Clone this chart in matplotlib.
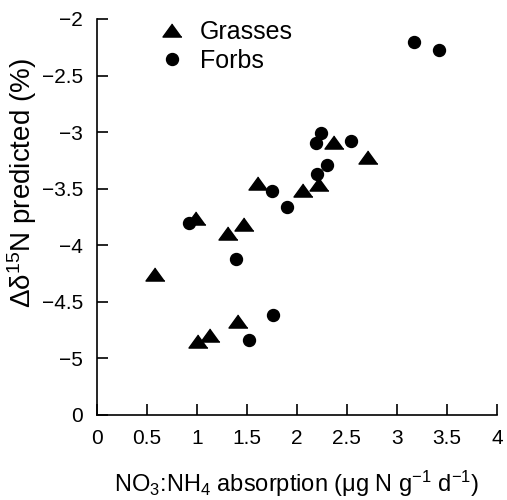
import matplotlib
matplotlib.use('Agg')
import matplotlib.pyplot as plt

plt.rcParams['font.family'] = ['Liberation Sans', 'DejaVu Sans']
plt.rcParams['mathtext.fontset'] = 'custom'
plt.rcParams['mathtext.rm'] = 'Liberation Sans'
plt.rcParams['mathtext.it'] = 'Liberation Sans:italic'

# data
grass_x = [0.58, 0.99, 1.31, 1.47, 1.61, 2.06, 2.22, 2.37, 2.71, 1.01, 1.13, 1.41]
grass_y = [-4.25, -3.76, -3.895, -3.81, -3.45, -3.51, -3.46, -3.085, -3.22, -4.85, -4.79, -4.67]
forb_x = [0.92, 1.39, 1.75, 1.90, 2.19, 2.24, 2.30, 2.20, 2.54, 3.17, 3.42, 1.76, 1.52]
forb_y = [-3.80, -4.12, -3.52, -3.665, -3.10, -3.01, -3.29, -3.37, -3.08, -2.20, -2.27, -4.62, -4.84]

xticks = [0, 0.5, 1, 1.5, 2, 2.5, 3, 3.5, 4]
xticklabels = ['0', '0.5', '1', '1.5', '2', '2.5', '3', '3.5', '4']
yticks = [-5.5, -5, -4.5, -4, -3.5, -3, -2.5, -2]
yticklabels = ['0', '\u22125', '\u22124.5', '\u22124', '\u22123.5', '\u22123', '\u22122.5', '\u22122']

fig = plt.figure(figsize=(5.07, 5.0), dpi=100)
ax = fig.add_axes([0.191, 0.17, 0.789, 0.792])

tri = [(0, 1), (-1.45, -1), (1.45, -1)]
ax.plot(grass_x, grass_y, linestyle='none', marker=tri, markersize=13.7,
        color='black', label='Grasses')
ax.plot(forb_x, forb_y, linestyle='none', marker='o', markersize=8.6,
        color='black', label='Forbs')

ax.set_xlim(0, 4)
ax.set_ylim(-5.5, -2)
ax.set_xticks(xticks)
ax.set_xticklabels(xticklabels)
ax.set_yticks(yticks)
ax.set_yticklabels(yticklabels)
ax.tick_params(direction='in', length=8, width=1.2, labelsize=15, pad=10)

for s in ['top', 'right']:
    ax.spines[s].set_visible(False)
for s in ['left', 'bottom']:
    ax.spines[s].set_linewidth(1.2)

ax.set_xlabel('NO$_3$:NH$_4$ absorption (\u03bcg N g$^{\u22121}$ d$^{\u22121}$)',
              fontsize=17, labelpad=15)
ax.set_ylabel('\u0394\u03b4$^{15}$N predicted (%)', fontsize=20)
# label sits a bit above the axis centre in the original
ax.yaxis.set_label_coords(-0.145, 0.585)

ax.legend(loc='upper left', bbox_to_anchor=(0.126, 1.03), frameon=False,
          fontsize=18, handlelength=1.0, handletextpad=0.6,
          labelspacing=0.2, borderpad=0)

fig.savefig('out.png', dpi=100)
